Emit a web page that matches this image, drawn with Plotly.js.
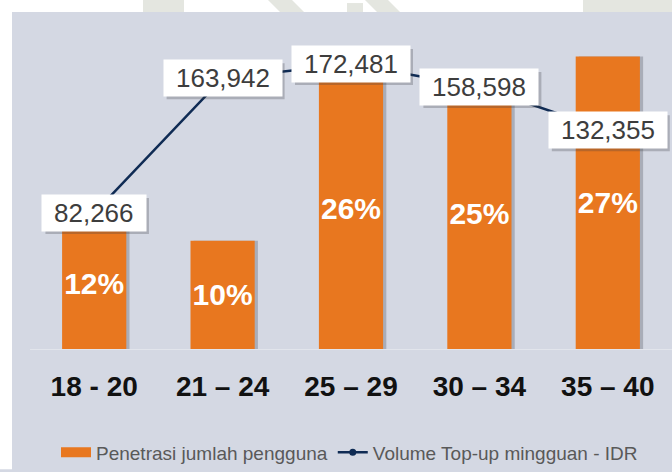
<!DOCTYPE html>
<html>
<head>
<meta charset="utf-8">
<script src="https://cdn.plot.ly/plotly-3.0.1.min.js"></script>
<style>html,body{margin:0;padding:0;background:#fff;}#chart{width:672px;height:472px;}</style>
</head>
<body>
<div id="chart"></div>
<script>
// ---- data ----
const categories = ["18 - 20", "21 \u2013 24", "25 \u2013 29", "30 \u2013 34", "35 \u2013 40"];
const penetration = [12, 10, 26, 25, 27];            // % of users
const topupVolume = [82266, 163942, 172481, 158598, 132355]; // IDR weekly top-up volume
const barName = "Penetrasi jumlah pengguna";
const lineName = "Volume Top-up mingguan - IDR";

// ---- style ----
const W = 672, H = 472;
const M = {l: 30, r: 0, t: 12, b: 121};
const plotW = W - M.l - M.r, plotH = H - M.t - M.b;
const px2x = p => (p - M.l) / plotW;
const px2y = p => (H - M.b - p) / plotH;
const panel = '#d4d8e3';
const orange = '#e8771f';
const navy = '#0f2b54';
const FONT = 'Liberation Sans, Arial, sans-serif';

const traces = [
  { // bar shadow
    type: 'bar', x: categories, y: penetration, yaxis: 'y',
    width: 0.5, offset: -0.225,
    marker: {color: 'rgba(70,72,85,0.30)'},
    showlegend: false, hoverinfo: 'skip'
  },
  {
    type: 'bar', name: barName, x: categories, y: penetration, yaxis: 'y',
    width: 0.5, offset: -0.25,
    marker: {color: orange},
    texttemplate: '%{y}%', textposition: 'inside', insidetextanchor: 'middle',
    textangle: 0, constraintext: 'none',
    textfont: {family: FONT, size: 30, color: '#ffffff', weight: 'bold'},
    showlegend: false, hoverinfo: 'skip'
  },
  { // legend proxy for bars
    type: 'scatter', mode: 'lines', name: barName, x: [null], y: [null],
    line: {color: orange, width: 10}, hoverinfo: 'skip'
  },
  {
    type: 'scatter', mode: 'lines+markers', name: lineName,
    x: categories, y: topupVolume, yaxis: 'y2',
    line: {color: navy, width: 2.5},
    marker: {color: navy, size: 7},
    cliponaxis: false, hoverinfo: 'skip'
  }
];

const fmt = v => v.toLocaleString('en-US');
const labelW = s => {
  let w = 0;
  for (const ch of s) w += (ch === ',') ? 0.278 : 0.556;
  return w * 26 + 18;
};
const annotations = [];
const shapes = [];
categories.forEach((c, i) => {
  const t = fmt(topupVolume[i]);
  const bw = labelW(t) + 6, bh = 36;
  // soft drop shadow behind each value box
  shapes.push({
    type: 'rect', xref: 'x', yref: 'y2', xsizemode: 'pixel', ysizemode: 'pixel',
    xanchor: c, yanchor: topupVolume[i],
    x0: -bw / 2 + 3, x1: bw / 2 + 3, y0: -bh / 2 - 3, y1: bh / 2 - 3,
    fillcolor: 'rgba(60,60,70,0.28)', line: {width: 0}, layer: 'above'
  });
  annotations.push({
    x: c, y: topupVolume[i], xref: 'x', yref: 'y2', text: t, showarrow: false,
    width: labelW(t), borderpad: 3,
    bgcolor: '#ffffff', font: {family: FONT, size: 26, color: '#3d3d3d'}
  });
});

const wm = '#e4e6e0';
shapes.push(
  // white frame strips
  {type: 'rect', xref: 'paper', yref: 'paper', x0: px2x(0), x1: px2x(W), y0: px2y(12), y1: px2y(0), fillcolor: '#ffffff', line: {width: 0}, layer: 'below'},
  {type: 'rect', xref: 'paper', yref: 'paper', x0: px2x(0), x1: px2x(12), y0: px2y(H), y1: px2y(0), fillcolor: '#ffffff', line: {width: 0}, layer: 'below'},
  // watermark fragments in top strip
  {type: 'rect', xref: 'paper', yref: 'paper', x0: px2x(143), x1: px2x(184), y0: px2y(12), y1: px2y(0), fillcolor: wm, line: {width: 0}, layer: 'below'},
  {type: 'path', xref: 'paper', yref: 'paper', path: `M${px2x(268)},${px2y(0)} L${px2x(292)},${px2y(0)} L${px2x(304)},${px2y(12)} L${px2x(280)},${px2y(12)} Z`, fillcolor: wm, line: {width: 0}, layer: 'below'},
  {type: 'rect', xref: 'paper', yref: 'paper', x0: px2x(347), x1: px2x(363), y0: px2y(12), y1: px2y(3), fillcolor: wm, line: {width: 0}, layer: 'below'},
  {type: 'path', xref: 'paper', yref: 'paper', path: `M${px2x(365)},${px2y(0)} L${px2x(388)},${px2y(0)} L${px2x(400)},${px2y(12)} L${px2x(377)},${px2y(12)} Z`, fillcolor: wm, line: {width: 0}, layer: 'below'},
  {type: 'rect', xref: 'paper', yref: 'paper', x0: px2x(583), x1: px2x(W), y0: px2y(12), y1: px2y(0), fillcolor: wm, line: {width: 0}, layer: 'below'}
);

const layout = {
  width: W, height: H, margin: M,
  paper_bgcolor: panel, plot_bgcolor: 'rgba(0,0,0,0)',
  barmode: 'overlay', bargap: 0.5,
  font: {family: FONT},
  showlegend: true,
  legend: {
    orientation: 'h', x: px2x(56), xanchor: 'left', y: px2y(455), yanchor: 'middle',
    bgcolor: 'rgba(0,0,0,0)', font: {family: FONT, size: 19, color: '#595959'},
    traceorder: 'normal'
  },
  xaxis: {
    type: 'category', range: [-0.5, 4.5], showgrid: false, zeroline: false,
    showline: true, linecolor: '#e2e5ec', linewidth: 1,
    ticks: '', ticklabelstandoff: 12,
    tickfont: {family: FONT, size: 28, color: '#111111', weight: 'bold'}
  },
  yaxis: {range: [0, 31.1], visible: false, showgrid: false, zeroline: false, fixedrange: true},
  yaxis2: {range: [0, 204000], overlaying: 'y', visible: false, showgrid: false, zeroline: false},
  annotations: annotations,
  shapes: shapes
};

Plotly.newPlot('chart', traces, layout, {displayModeBar: false, staticPlot: true});
</script>
</body>
</html>
